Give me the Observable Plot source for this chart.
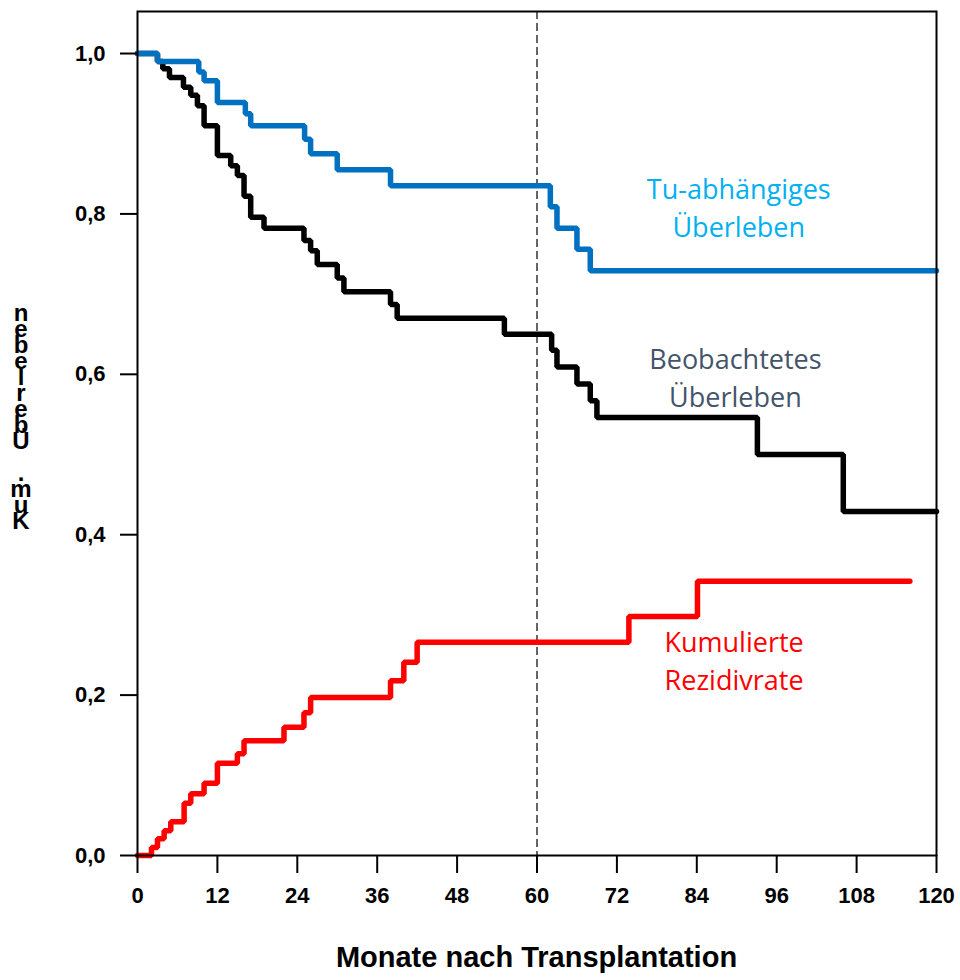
<!DOCTYPE html>
<html>
<head>
<meta charset="utf-8">
<script src="https://cdn.jsdelivr.net/npm/d3@7"></script>
<script src="https://cdn.jsdelivr.net/npm/@observablehq/plot@0.6"></script>
<style>
  html, body { margin: 0; padding: 0; background: #fff; }
  #wrap { position: relative; width: 960px; height: 980px; overflow: hidden; }
  #chart svg { display: block; }
  #xlabel { position: absolute; left: 137px; width: 799px; top: 941px; text-align: center;
    font: bold 29px "Liberation Sans", Arial, sans-serif; color: #000; }
  #ylabel { position: absolute; left: 7px; width: 28px; top: 305px; text-align: center;
    font: bold 24px "Liberation Sans", Arial, sans-serif; line-height: 16px; white-space: pre; color: #000; }
</style>
</head>
<body>
<div id="wrap">
  <div id="chart"></div>
  <div id="xlabel"></div>
  <div id="ylabel"></div>
</div>
<script>
// ---- data ----
const xTicks = [0, 12, 24, 36, 48, 60, 72, 84, 96, 108, 120];
const yTicks = [0, 0.2, 0.4, 0.6, 0.8, 1.0];
const xLabel = "Monate nach Transplantation";
const yLabel = "Kum. Überleben";
const landmarkMonth = [60];

// Tu-abhängiges Überleben
const tumorT = [0, 3, 9.2, 10, 12, 16.2, 17, 25.1, 26, 30, 38, 62, 63, 66, 68, 120];
const tumorV = [1.0, 0.990, 0.977, 0.966, 0.939, 0.925, 0.910, 0.893, 0.875, 0.855, 0.835, 0.809, 0.782, 0.756, 0.729, 0.729];

// Beobachtetes Überleben
const obsT = [0, 3, 3.8, 4.8, 6.9, 8, 9, 10, 12, 14, 15, 16, 17, 19, 25, 26, 27, 30, 31, 38, 39, 55.1, 62.2, 63, 66, 68, 69, 93.1, 106, 120];
const obsV = [1.0, 0.99, 0.981, 0.970, 0.958, 0.948, 0.935, 0.910, 0.873, 0.860, 0.848, 0.822, 0.796, 0.782, 0.767, 0.754, 0.737, 0.720, 0.703, 0.687, 0.670, 0.650, 0.630, 0.609, 0.588, 0.567, 0.546, 0.500, 0.429, 0.429];

// Kumulierte Rezidivrate
const relT = [0, 2.1, 3, 4, 5, 7, 8, 10, 12, 15, 16, 22, 25, 26, 38, 40, 42, 73.8, 84.1, 116];
const relV = [0, 0.010, 0.021, 0.031, 0.042, 0.065, 0.077, 0.090, 0.115, 0.127, 0.143, 0.160, 0.178, 0.197, 0.218, 0.241, 0.266, 0.298, 0.342, 0.342];

// curve labels (text and anchor in data units)
const labelText = ["Tu-abhängiges\nÜberleben", "Beobachtetes\nÜberleben", "Kumulierte\nRezidivrate"];
const labelT = [90.3, 89.8, 89.6];
const labelV = [0.810, 0.598, 0.245];

// ---- build ----
const toRows = (ts, vs) => ts.map((t, i) => ({t, v: vs[i]}));
const tumor = toRows(tumorT, tumorV);
const obs = toRows(obsT, obsV);
const rel = toRows(relT, relV);
const labels = labelText.map((text, i) => ({text, t: labelT[i], v: labelV[i]}));
const labelColors = ["#00B0F0", "#44546A", "#FF0000"];

const fmt = d => d.toFixed(1).replace(".", ",");
const lineOpts = {x: "t", y: "v", curve: "step-after", strokeWidth: 5.5, strokeLinecap: "round", strokeLinejoin: "miter"};

const plot = Plot.plot({
  width: 960,
  height: 930,
  marginLeft: 137,
  marginRight: 24,
  marginTop: 11,
  marginBottom: 75,
  style: {fontFamily: "'Liberation Sans', Arial, sans-serif", background: "#fff", color: "#000"},
  x: {domain: [0, 120]},
  y: {domain: [0, 1.0524]},
  marks: [
    Plot.ruleX(landmarkMonth, {stroke: "#000", strokeWidth: 1.2, strokeDasharray: "8,4"}),
    Plot.line(rel, {...lineOpts, stroke: "#FF0000"}),
    Plot.line(obs, {...lineOpts, stroke: "#000000"}),
    Plot.line(tumor, {...lineOpts, stroke: "#0070C0"}),
    Plot.text(labels, {x: "t", y: "v", text: "text", fill: (d, i) => labelColors[i],
      fontSize: 27, fontFamily: "'Open Sans', sans-serif", lineHeight: 1.4, textAnchor: "middle"}),
    Plot.frame({stroke: "#000", strokeWidth: 2}),
    Plot.axisY({ticks: yTicks, tickFormat: fmt, tickSize: 17, tickPadding: 15, strokeWidth: 2,
      fontSize: 22, fontWeight: "bold", label: null}),
    Plot.axisX({ticks: xTicks, tickFormat: d => String(d), tickSize: 18, tickPadding: 14, strokeWidth: 2,
      fontSize: 22, fontWeight: "bold", label: null})
  ]
});
document.getElementById("chart").appendChild(plot);
document.getElementById("xlabel").textContent = xLabel;
// stacked, reversed characters as in the reference
document.getElementById("ylabel").textContent = Array.from(yLabel).reverse().join("\n");
</script>
</body>
</html>
